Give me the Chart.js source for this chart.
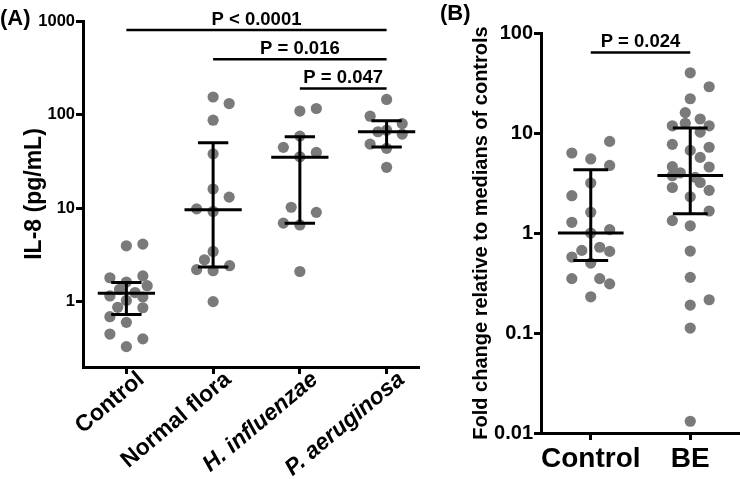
<!DOCTYPE html>
<html><head><meta charset="utf-8">
<script src="https://cdn.jsdelivr.net/npm/chart.js@4/dist/chart.umd.min.js"></script>
<style>
html,body{margin:0;padding:0;background:#fff;width:740px;height:479px;overflow:hidden;position:relative}
canvas{position:absolute;top:0}
#ca{left:0}
#cb{left:430px}
.pl{position:absolute;font:bold 22px "Liberation Sans",Arial,sans-serif;color:#000;line-height:1}
</style></head><body>
<canvas id="ca" width="420" height="479"></canvas>
<canvas id="cb" width="310" height="479"></canvas>
<div class="pl" style="left:0px;top:7px">(A)</div>
<div class="pl" style="left:440px;top:2px">(B)</div>
<script>
// ---------- Panel A data ----------
const groupsA = ['Control', 'Normal flora', 'H. influenzae', 'P. aeruginosa'];
const controlA      = [3.95, 4.12, 1.80, 1.62, 1.88, 1.48, 1.15, 1.35, 1.25, 1.12, 1.03, 0.87, 0.86, 0.69, 0.60, 0.45, 0.40, 0.33];
const normalFloraA  = [154, 131, 87, 38, 16, 13.1, 9.8, 9.2, 3.44, 2.8, 2.2, 2.14, 2.42, 1.0];
const hInfluenzaeA  = [116, 109, 58.8, 44.6, 39.4, 35.4, 10.2, 9.0, 6.9, 6.6, 2.1];
const pAeruginosaA  = [145, 96, 80, 68, 65.5, 61.8, 48.3, 43.5, 27.3];
// horizontal scatter of each dot (category units)
const jitterControlA     = [0, 0.19, -0.19, 0, 0.19, 0.24, -0.19, -0.08, 0.1, 0.19, 0, -0.1, 0.19, -0.19, 0, -0.19, 0.19, 0];
const jitterNormalFloraA = [0, 0.185, 0, 0, 0, 0.185, -0.19, 0, 0, -0.1, -0.19, 0, 0.19, 0];
const jitterHInfluenzaeA = [0.19, 0, 0, -0.19, 0.19, 0, -0.1, 0.19, -0.19, 0, 0];
const jitterPAeruginosaA = [0, -0.19, 0.18, 0, -0.1, 0.18, -0.19, 0, 0];
const mediansA = [1.23, 9.6, 35, 65.5];
const q1A      = [0.73, 2.35, 6.9, 45];
const q3A      = [1.6, 50, 58, 86];
const yTicksA  = [1, 10, 100, 1000];
const pTextA   = ['P < 0.0001', 'P = 0.016', 'P = 0.047'];
const pFromA   = [0, 1, 2];
const pToA     = [3, 3, 3];
const pLevelA  = [800, 390, 190];

// ---------- Panel B data ----------
const groupsB = ['Control', 'BE'];
const controlB = [8.24, 6.31, 5.5, 4.74, 3.16, 2.36, 1.61, 1.28, 1.08, 1.0, 0.67, 0.72, 0.575, 0.655, 0.5, 0.35, 0.35, 0.31, 0.23];
const beB      = [40, 29, 22, 16, 13.8, 11.8, 11.8, 12.5, 10.2, 7.7, 7.2, 6.7, 5.7, 4.6, 4.57, 4.0, 3.74, 3.6, 3.2, 2.85, 2.67, 2.3, 1.66, 1.33, 1.18, 0.66, 0.36, 0.19, 0.215, 0.112, 0.0131];
const jitterControlB = [0.19, -0.19, 0, 0.19, 0, -0.19, 0, -0.19, 0.19, 0, -0.09, 0.09, -0.19, 0.19, 0, -0.19, 0.09, 0.19, 0];
const jitterBeB      = [0, 0.19, 0, -0.05, 0.1, -0.18, 0.19, -0.05, 0.1, -0.18, 0.19, 0, 0.1, -0.18, 0.19, -0.1, -0.18, 0.05, 0.1, -0.18, 0.19, 0, 0.19, -0.18, 0, 0, 0, 0, 0.19, 0, 0];
const mediansB = [1.0, 3.75];
const q1B      = [0.53, 1.56];
const q3B      = [4.3, 11.2];
const yTicksB  = [0.01, 0.1, 1, 10, 100];
const pTextB   = ['P = 0.024'];
const pFromB   = [0];
const pToB     = [1];
const pLevelB  = [64];

// ---------- helpers ----------
const FAM = '"Liberation Sans", Arial, Helvetica, sans-serif';
Chart.defaults.font.family = FAM;
Chart.defaults.color = '#000';
const DOT = '#7a7a7a';

function dots(groups, jitters) {
  const out = [];
  groups.forEach((vals, i) => vals.forEach((v, j) => out.push({x: i + jitters[i][j], y: v})));
  return out;
}
function bars(med, q1, q3) {
  const d = [];
  med.forEach((m, i) => {
    d.push({x: i - 0.33, y: m}, {x: i + 0.33, y: m}, {x: i, y: null});
    d.push({x: i, y: q1[i]}, {x: i, y: q3[i]}, {x: i, y: null});
    d.push({x: i - 0.175, y: q3[i]}, {x: i + 0.175, y: q3[i]}, {x: i, y: null});
    d.push({x: i - 0.175, y: q1[i]}, {x: i + 0.175, y: q1[i]}, {x: i, y: null});
  });
  return d;
}
function brackets(from, to, level) {
  const d = [];
  from.forEach((f, i) => d.push({x: f, y: level[i]}, {x: to[i], y: level[i]}, {x: to[i], y: null}));
  return d;
}
const pText = {
  id: 'ptext',
  afterDatasetsDraw(chart, args, o) {
    const {ctx} = chart, x = chart.scales.x, y = chart.scales.y;
    ctx.save();
    ctx.font = 'bold ' + o.size + 'px ' + FAM;
    ctx.fillStyle = '#000'; ctx.textAlign = 'center'; ctx.textBaseline = 'alphabetic';
    o.text.forEach((t, i) => {
      ctx.fillText(t, x.getPixelForValue((o.from[i] + o.to[i]) / 2), y.getPixelForValue(o.level[i]) - 5);
    });
    ctx.restore();
  }
};
function lineDs(data, w) {
  return {type: 'scatter', data, showLine: true, spanGaps: false, borderColor: '#000', borderWidth: w,
          pointRadius: 0, pointHoverRadius: 0, order: 0, clip: false, borderCapStyle: 'butt'};
}
function axisCommon() {
  return {
    border: {display: true, color: '#000', width: 3},
    grid: {display: true, drawOnChartArea: false, drawTicks: true, tickLength: 7, color: '#000', lineWidth: 3}
  };
}

// ---------- Chart A ----------
new Chart(document.getElementById('ca'), {
  type: 'scatter',
  data: {datasets: [
    lineDs(bars(mediansA, q1A, q3A), 3),
    lineDs(brackets(pFromA, pToA, pLevelA), 2.5),
    {data: dots([controlA, normalFloraA, hInfluenzaeA, pAeruginosaA],
                [jitterControlA, jitterNormalFloraA, jitterHInfluenzaeA, jitterPAeruginosaA]),
     pointRadius: 5.6, pointBackgroundColor: DOT, pointBorderWidth: 0, order: 1, clip: false}
  ]},
  options: {
    responsive: false, animation: false, devicePixelRatio: 1,
    layout: {autoPadding: false, padding: {top: 21, right: 0, bottom: 0, left: 0}},
    plugins: {legend: {display: false}, tooltip: {enabled: false},
      ptext: {text: pTextA, from: pFromA, to: pToA, level: pLevelA, size: 18.5}},
    scales: {
      x: Object.assign(axisCommon(), {
        type: 'linear', min: -0.5, max: 3.385,
        afterBuildTicks: s => { s.ticks = groupsA.map((g, i) => ({value: i})); },
        afterFit: s => { s.height = 112; },
        ticks: {autoSkip: false, minRotation: 40, maxRotation: 40, padding: -8, labelOffset: 15,
          callback: v => groupsA[v],
          font: c => ({family: FAM, size: 23, weight: 'bold', style: (c.index >= 2 ? 'italic' : 'normal')})}
      }),
      y: Object.assign(axisCommon(), {
        type: 'logarithmic', min: 0.2, max: 1000,
        afterBuildTicks: s => { s.ticks = yTicksA.map(v => ({value: v})); },
        afterFit: s => { s.width = 83; },
        ticks: {padding: 1, callback: v => String(v), font: {family: FAM, size: 16.5, weight: 'bold'}},
        title: {display: true, text: 'IL-8 (pg/mL)', font: {family: FAM, size: 23, weight: 'bold'}, padding: {top: 21, bottom: 0}}
      })
    }
  },
  plugins: [pText]
});

// ---------- Chart B ----------
new Chart(document.getElementById('cb'), {
  type: 'scatter',
  data: {datasets: [
    lineDs(bars(mediansB, q1B, q3B), 3),
    lineDs(brackets(pFromB, pToB, pLevelB), 2.5),
    {data: dots([controlB, beB], [jitterControlB, jitterBeB]),
     pointRadius: 5.6, pointBackgroundColor: DOT, pointBorderWidth: 0, order: 1, clip: false}
  ]},
  options: {
    responsive: false, animation: false, devicePixelRatio: 1,
    layout: {autoPadding: false, padding: {top: 33, right: 0, bottom: 0, left: 0}},
    plugins: {legend: {display: false}, tooltip: {enabled: false},
      ptext: {text: pTextB, from: pFromB, to: pToB, level: pLevelB, size: 18.5}},
    scales: {
      x: Object.assign(axisCommon(), {
        type: 'linear', min: -0.5, max: 1.5,
        afterBuildTicks: s => { s.ticks = groupsB.map((g, i) => ({value: i})); },
        afterFit: s => { s.height = 46; },
        ticks: {autoSkip: false, minRotation: 0, maxRotation: 0, padding: 2,
          callback: v => groupsB[v], font: {family: FAM, size: 28, weight: 'bold'}}
      }),
      y: Object.assign(axisCommon(), {
        type: 'logarithmic', min: 0.01, max: 100,
        afterBuildTicks: s => { s.ticks = yTicksB.map(v => ({value: v})); },
        afterFit: s => { s.width = 111; },
        ticks: {padding: 1, callback: v => String(v), font: {family: FAM, size: 20, weight: 'bold'}},
        title: {display: true, text: 'Fold change relative to medians of controls', font: {family: FAM, size: 20, weight: 'bold'}, padding: {top: 39, bottom: 0}}
      })
    }
  },
  plugins: [pText]
});
</script>
</body></html>
